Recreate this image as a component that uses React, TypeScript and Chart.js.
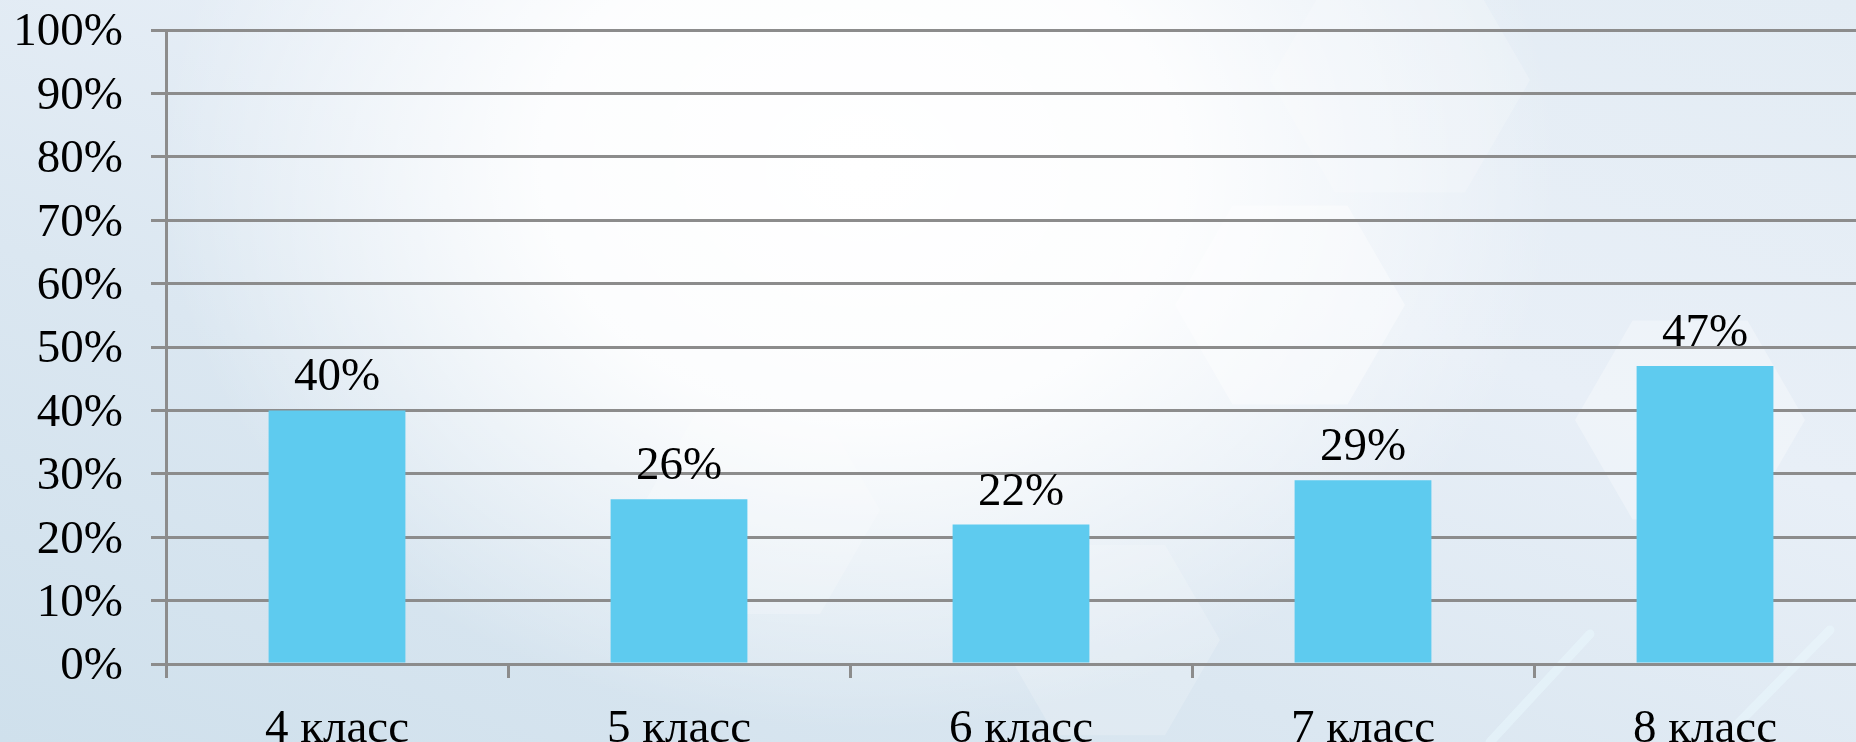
import React, { useEffect, useRef } from "react";
import { Chart, registerables } from "chart.js";

Chart.register(...registerables);

const categories = ["4 класс", "5 класс", "6 класс", "7 класс", "8 класс"];
const values = [40, 26, 22, 29, 47];
const yTicks = [0, 10, 20, 30, 40, 50, 60, 70, 80, 90, 100];

const FONT = '"Liberation Serif", "Times New Roman", serif';
const GRID = "#8c8c8c";

const bgPlugin = {
  id: "bgDecor",
  beforeDraw(chart: any) {
    const { ctx } = chart;
    ctx.save();
    const hex = (cx: number, cy: number, r: number, alpha: number) => {
      ctx.beginPath();
      for (let i = 0; i < 6; i++) {
        const a = (Math.PI / 3) * i;
        const px = cx + r * Math.cos(a);
        const py = cy + r * Math.sin(a);
        if (i === 0) ctx.moveTo(px, py);
        else ctx.lineTo(px, py);
      }
      ctx.closePath();
      ctx.fillStyle = `rgba(255,255,255,${alpha})`;
      ctx.fill();
    };
    hex(1290, 305, 115, 0.4);
    hex(1690, 420, 115, 0.3);
    hex(760, 510, 120, 0.2);
    hex(1400, 80, 130, 0.2);
    hex(1110, 640, 110, 0.18);
    ctx.strokeStyle = "rgba(235,250,255,0.45)";
    ctx.lineWidth = 9;
    ctx.lineCap = "round";
    ctx.beginPath();
    ctx.moveTo(1590, 634);
    ctx.lineTo(1490, 742);
    ctx.moveTo(1830, 630);
    ctx.lineTo(1720, 742);
    ctx.stroke();
    ctx.restore();
  },
};

const labelPlugin = {
  id: "barLabels",
  afterDatasetsDraw(chart: any) {
    const { ctx } = chart;
    const meta = chart.getDatasetMeta(0);
    ctx.save();
    ctx.font = `47px ${FONT}`;
    ctx.fillStyle = "#000000";
    ctx.textAlign = "center";
    ctx.textBaseline = "alphabetic";
    meta.data.forEach((bar: any, i: number) => {
      ctx.fillText(`${values[i]}%`, bar.x, bar.y - 20);
    });
    ctx.restore();
  },
};

export default function App() {
  const ref = useRef<HTMLCanvasElement | null>(null);

  useEffect(() => {
    if (!ref.current) return;
    const chart = new Chart(ref.current, {
      type: "bar",
      data: {
        labels: categories,
        datasets: [
          {
            data: values,
            backgroundColor: "#5ecbef",
            borderWidth: 0,
            barPercentage: 0.4,
            categoryPercentage: 1,
          },
        ],
      },
      options: {
        responsive: false,
        animation: false,
        devicePixelRatio: 1,
        layout: { padding: { top: 30, right: 4, left: 0, bottom: 0 } },
        plugins: {
          legend: { display: false },
          tooltip: { enabled: false },
          title: { display: false },
        },
        scales: {
          x: {
            afterFit(scale: any) {
              scale.height = 78;
              scale.paddingLeft = 0;
              scale.paddingRight = 0;
            },
            grid: {
              drawOnChartArea: false,
              drawTicks: true,
              tickLength: 14,
              lineWidth: 3,
              color: GRID,
              offset: true,
            },
            border: { display: true, color: GRID, width: 3 },
            ticks: {
              font: { family: FONT, size: 47 },
              color: "#000000",
              padding: 23,
              maxRotation: 0,
              autoSkip: false,
            },
          },
          y: {
            min: 0,
            max: 100,
            afterFit(scale: any) {
              scale.width = 166;
              scale.paddingTop = 0;
              scale.paddingBottom = 0;
            },
            afterBuildTicks(scale: any) {
              scale.ticks = yTicks.map((v) => ({ value: v }));
            },
            grid: {
              lineWidth: 3,
              color: GRID,
              tickLength: 15,
              drawTicks: true,
            },
            border: { display: true, color: GRID, width: 3 },
            ticks: {
              font: { family: FONT, size: 47 },
              color: "#000000",
              padding: 28,
              labelOffset: 3,
              callback: (v: any) => `${v}%`,
            },
          },
        },
      },
      plugins: [bgPlugin, labelPlugin],
    });
    return () => chart.destroy();
  }, []);

  return (
    <div
      style={{
        position: "absolute",
        left: 0,
        top: 0,
        width: 1856,
        height: 742,
        overflow: "hidden",
        background:
          "radial-gradient(ellipse 700px 560px at 860px 170px, rgba(255,255,255,1) 0%, rgba(255,255,255,0.9) 45%, rgba(255,255,255,0) 100%), linear-gradient(20deg, #cfe0ec 0%, #dbe7f1 35%, #e8eff7 65%, #e3ecf4 100%)",
      }}
    >
      <canvas
        ref={ref}
        width={1880}
        height={742}
        style={{ width: 1880, height: 742, display: "block" }}
      />
    </div>
  );
}
